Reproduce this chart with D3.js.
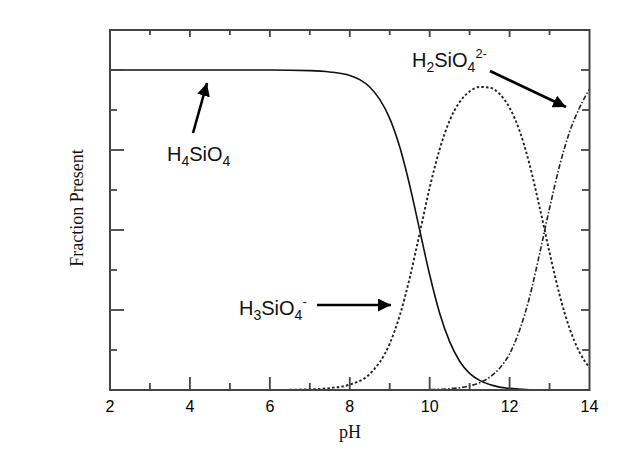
<!DOCTYPE html>
<html><head><meta charset="utf-8">
<script src="https://cdn.jsdelivr.net/npm/d3@7"></script>
<style>body{margin:0;background:#fff}</style>
</head><body>
<script>
// ---- data ----
const xTicks = [2,4,6,8,10,12,14];
const h4PH   = [2,3,4,5,6,7,7.5,8,8.25,8.5,8.75,9,9.25,9.5,9.75,10,10.25,10.5,10.75,11,11.25,11.5,11.75,12,12.5,13];
const h4Frac = [1,1,1,1,1,0.998,0.994,0.983,0.97,0.947,0.908,0.849,0.76,0.64,0.5,0.36,0.24,0.151,0.09,0.052,0.03,0.017,0.009,0.005,0.001,0];
const h3PH   = [6.5,7,7.5,8,8.5,9,9.25,9.5,9.75,10,10.25,10.5,10.75,11,11.25,11.5,11.75,12,12.25,12.5,12.75,13,13.25,13.5,13.75,14];
const h3Frac = [0.001,0.002,0.006,0.017,0.05,0.145,0.232,0.35,0.49,0.632,0.752,0.842,0.9,0.933,0.947,0.945,0.925,0.882,0.81,0.705,0.572,0.43,0.298,0.193,0.118,0.07];
const h2PH   = [9.5,10,10.5,10.75,11,11.25,11.5,11.75,12,12.25,12.5,12.75,13,13.25,13.5,13.75,14];
const h2Frac = [0,0.001,0.004,0.007,0.013,0.023,0.04,0.068,0.113,0.187,0.29,0.425,0.568,0.7,0.806,0.882,0.94];

const W = 628, H = 461;
const svg = d3.select("body").append("svg").attr("width", W).attr("height", H)
  .style("font-family","'Liberation Sans', Arial, sans-serif");

const x = d3.scaleLinear().domain([2,14]).range([110,589.5]);
const y = d3.scaleLinear().domain([0,1.125]).range([390,30]);

const line = d3.line().x(d=>x(d[0])).y(d=>y(d[1])).curve(d3.curveMonotoneX);
const zip = (a,b)=>a.map((v,i)=>[v,b[i]]);

svg.append("path").datum(zip(h4PH,h4Frac)).attr("d",line)
  .attr("fill","none").attr("stroke","#111").attr("stroke-width",1.6);
svg.append("path").datum(zip(h3PH,h3Frac)).attr("d",line)
  .attr("fill","none").attr("stroke","#222").attr("stroke-width",1.9).attr("stroke-dasharray","2.5,2.2");
svg.append("path").datum(zip(h2PH,h2Frac)).attr("d",line)
  .attr("fill","none").attr("stroke","#222").attr("stroke-width",1.6).attr("stroke-dasharray","5,2,1.5,2");

// ---- ticks ----
const ax = "#444";
const xMinor = d3.range(3,14,2);
const yMaj = [0.25,0.5,0.75,1.0];
const yMin = [0.125,0.375,0.625,0.875];
const tk = svg.append("g").attr("stroke",ax).attr("stroke-width",1.8);
xTicks.slice(1,-1).forEach(v=>{
  tk.append("line").attr("x1",x(v)).attr("x2",x(v)).attr("y1",390).attr("y2",377);
  tk.append("line").attr("x1",x(v)).attr("x2",x(v)).attr("y1",30).attr("y2",37);
});
xMinor.forEach(v=>{
  tk.append("line").attr("x1",x(v)).attr("x2",x(v)).attr("y1",390).attr("y2",383);
  tk.append("line").attr("x1",x(v)).attr("x2",x(v)).attr("y1",30).attr("y2",35);
});
yMaj.forEach(v=>{
  tk.append("line").attr("x1",110).attr("x2",124).attr("y1",y(v)).attr("y2",y(v));
  tk.append("line").attr("x1",589.5).attr("x2",581).attr("y1",y(v)).attr("y2",y(v));
});
yMin.forEach(v=>{
  tk.append("line").attr("x1",110).attr("x2",117).attr("y1",y(v)).attr("y2",y(v));
  tk.append("line").attr("x1",589.5).attr("x2",582).attr("y1",y(v)).attr("y2",y(v));
});
// frame
svg.append("rect").attr("x",110).attr("y",30).attr("width",479.5).attr("height",360)
  .attr("fill","none").attr("stroke",ax).attr("stroke-width",2);

// tick labels
svg.append("g").selectAll("text").data(xTicks).join("text")
  .attr("x",d=>x(d)).attr("y",412).attr("text-anchor","middle")
  .attr("font-size",16).attr("fill","#000").text(d=>d);

// axis titles
svg.append("text").attr("x",350).attr("y",438).attr("text-anchor","middle")
  .attr("font-family","'Liberation Serif','Times New Roman',serif").attr("font-size",18).attr("fill","#111").text("pH");
svg.append("text").attr("transform","translate(83,208) rotate(-90)").attr("text-anchor","middle")
  .attr("font-family","'Liberation Serif','Times New Roman',serif").attr("font-size",18).attr("fill","#111").text("Fraction Present");

// annotations
function chem(g, px, py, parts){
  const t = g.append("text").attr("x",px).attr("y",py).attr("font-size",20).attr("fill","#111");
  parts.forEach(p=>{
    const s = t.append("tspan").text(p.t);
    if(p.sub){ s.attr("font-size",14).attr("dy",5); }
    else if(p.sup){ s.attr("font-size",13).attr("dy",p.dy); }
    else if(p.dy){ s.attr("dy",p.dy); }
  });
}
const ann = svg.append("g");
chem(ann,167,161,[{t:"H"},{t:"4",sub:1},{t:"SiO",dy:-5},{t:"4",sub:1}]);
chem(ann,239,315,[{t:"H"},{t:"3",sub:1},{t:"SiO",dy:-5},{t:"4",sub:1},{t:"-",sup:1,dy:-14}]);
chem(ann,412,67,[{t:"H"},{t:"2",sub:1},{t:"SiO",dy:-5},{t:"4",sub:1},{t:"2-",sup:1,dy:-14}]);

svg.append("defs").append("marker").attr("id","ah").attr("viewBox","0 0 10 10")
  .attr("refX",10).attr("refY",5).attr("markerWidth",5).attr("markerHeight",5)
  .attr("orient","auto").attr("markerUnits","strokeWidth")
  .append("path").attr("d","M0,0L10,5L0,10Z").attr("fill","#000");
function arrow(x1,y1,x2,y2){
  ann.append("line").attr("x1",x1).attr("y1",y1).attr("x2",x2).attr("y2",y2)
    .attr("stroke","#000").attr("stroke-width",2.6).attr("marker-end","url(#ah)");
}
arrow(193,133,207,83);
arrow(317,305,391,305);
arrow(490,71,566,107);
</script>
</body></html>
